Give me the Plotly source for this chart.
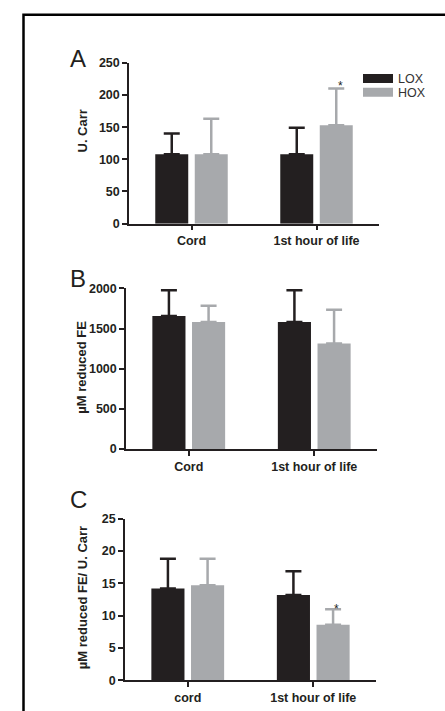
import plotly.graph_objects as go

# ---------------- data ----------------
categories_ab = ["Cord", "1st hour of life"]
categories_c = ["cord", "1st hour of life"]
series_names = ["LOX", "HOX"]

a_lox = [108, 108]
a_lox_err = [32, 41]
a_hox = [108, 153]
a_hox_err = [55, 57]

b_lox = [1655, 1580]
b_lox_err = [320, 395]
b_hox = [1580, 1315]
b_hox_err = [205, 420]

c_lox = [14.2, 13.2]
c_lox_err = [4.6, 3.7]
c_hox = [14.7, 8.6]
c_hox_err = [4.1, 2.4]

a_ticks = [0, 50, 100, 150, 200, 250]
b_ticks = [0, 500, 1000, 1500, 2000]
c_ticks = [0, 5, 10, 15, 20, 25]

y_titles = ["U. Carr", "µM reduced FE", "µM reduced FE/ U. Carr"]
panel_letters = ["A", "B", "C"]

# ---------------- style ----------------
W, H = 445, 711
BLACK = "#231f20"
GRAY = "#a7a9ac"
FONT = "Liberation Sans, Arial, sans-serif"


def px_x(a, b):
    return [a / W, b / W]


def px_y(top, bottom):
    return [1 - bottom / H, 1 - top / H]


fig = go.Figure()

panels = [
    ("x", "y", categories_ab, a_lox, a_lox_err, a_hox, a_hox_err),
    ("x2", "y2", categories_ab, b_lox, b_lox_err, b_hox, b_hox_err),
    ("x3", "y3", categories_c, c_lox, c_lox_err, c_hox, c_hox_err),
]

for xa, ya, cats, lox, lox_e, hox, hox_e in panels:
    fig.add_trace(go.Bar(
        x=cats, y=lox, name=series_names[0], xaxis=xa, yaxis=ya,
        marker=dict(color=BLACK, line=dict(width=0)),
        error_y=dict(type="data", symmetric=False, array=lox_e,
                     arrayminus=[0] * len(lox_e), color=BLACK,
                     thickness=2.5, width=8),
        showlegend=False,
    ))
    fig.add_trace(go.Bar(
        x=cats, y=hox, name=series_names[1], xaxis=xa, yaxis=ya,
        marker=dict(color=GRAY, line=dict(width=0)),
        error_y=dict(type="data", symmetric=False, array=hox_e,
                     arrayminus=[0] * len(hox_e), color=GRAY,
                     thickness=2.5, width=8),
        showlegend=False,
    ))

# legend-only entries (wide rectangular swatches like the original)
fig.add_trace(go.Scatter(x=[None], y=[None], mode="lines", name=series_names[0],
                         line=dict(color=BLACK, width=9), legend="legend"))
fig.add_trace(go.Scatter(x=[None], y=[None], mode="lines", name=series_names[1],
                         line=dict(color=GRAY, width=9), legend="legend2"))

tickfont = dict(family=FONT, size=12.5, color=BLACK, weight="bold")
titlefont = dict(family=FONT, size=13, color=BLACK, weight="bold")

common_x = dict(showline=True, linecolor=BLACK, linewidth=1.5, ticks="outside",
                ticklen=5, tickwidth=1.5, tickcolor=BLACK, tickfont=tickfont,
                showgrid=False, zeroline=False, range=[-0.5, 1.5], fixedrange=True)
common_y = dict(showline=True, linecolor=BLACK, linewidth=1.5, ticks="outside",
                ticklen=5, tickwidth=1.5, tickcolor=BLACK, tickfont=tickfont,
                showgrid=False, zeroline=False, fixedrange=True)

legend_common = dict(xanchor="left", yanchor="top",
                     font=dict(family=FONT, size=12.5, color="#333333"),
                     bgcolor="rgba(0,0,0,0)", itemclick=False, itemdoubleclick=False)

fig.update_layout(
    width=W, height=H,
    margin=dict(l=0, r=0, t=0, b=0),
    paper_bgcolor="white", plot_bgcolor="white",
    barmode="group", bargap=0.368, bargroupgap=0.165,
    font=dict(family=FONT, color=BLACK),
    xaxis=dict(common_x, domain=px_x(129, 379), anchor="y"),
    yaxis=dict(common_y, domain=px_y(57, 221), anchor="x", range=[0, 250],
               tickvals=a_ticks),
    xaxis2=dict(common_x, domain=px_x(126, 377), anchor="y2"),
    yaxis2=dict(common_y, domain=px_y(287, 451), anchor="x2", range=[0, 2000],
                tickvals=b_ticks),
    xaxis3=dict(common_x, domain=px_x(125, 376), anchor="y3"),
    yaxis3=dict(common_y, domain=px_y(522, 687), anchor="x3", range=[0, 25],
                tickvals=c_ticks),
    legend=dict(legend_common, x=358 / W, y=1 - 58 / H),
    legend2=dict(legend_common, x=358 / W, y=1 - 72 / H),
    showlegend=True,
)

# y-axis titles (rotated)
for txt, (cx, cy) in zip(y_titles, [(82, 127), (82, 368), (82, 603)]):
    fig.add_annotation(text=txt, xref="paper", yref="paper", textangle=-90,
                       x=cx / W, y=1 - cy / H, xanchor="center", yanchor="middle",
                       showarrow=False, font=titlefont)

# panel letters
for letter, (cx, cy) in zip(panel_letters, [(78, 53), (78, 277), (78, 502)]):
    fig.add_annotation(text=letter, xref="paper", yref="paper",
                       x=cx / W, y=1 - cy / H, xanchor="center", yanchor="middle",
                       showarrow=False, font=dict(family=FONT, size=24, color=BLACK))

# significance asterisks above HOX 1st hour bars
hox_shift = 23.5
fig.add_annotation(text="*", xref="x", yref="y", x=categories_ab[1],
                   y=a_hox[1] + a_hox_err[1], xshift=hox_shift, yshift=-6,
                   yanchor="bottom", showarrow=False,
                   font=dict(family=FONT, size=12, color=BLACK))
fig.add_annotation(text="*", xref="x3", yref="y3", x=categories_c[1],
                   y=c_hox[1] + c_hox_err[1], xshift=hox_shift, yshift=-9,
                   yanchor="bottom", showarrow=False,
                   font=dict(family=FONT, size=12, color=BLACK))

# frame border
fig.add_shape(type="rect", xref="paper", yref="paper",
              x0=23.5 / W, x1=1.05, y0=-0.05, y1=1 - 8 / H,
              line=dict(color="black", width=2.5), fillcolor="rgba(0,0,0,0)")

fig.write_html("out.html", config={"displayModeBar": False},
               post_script="document.body.style.margin='0';")
